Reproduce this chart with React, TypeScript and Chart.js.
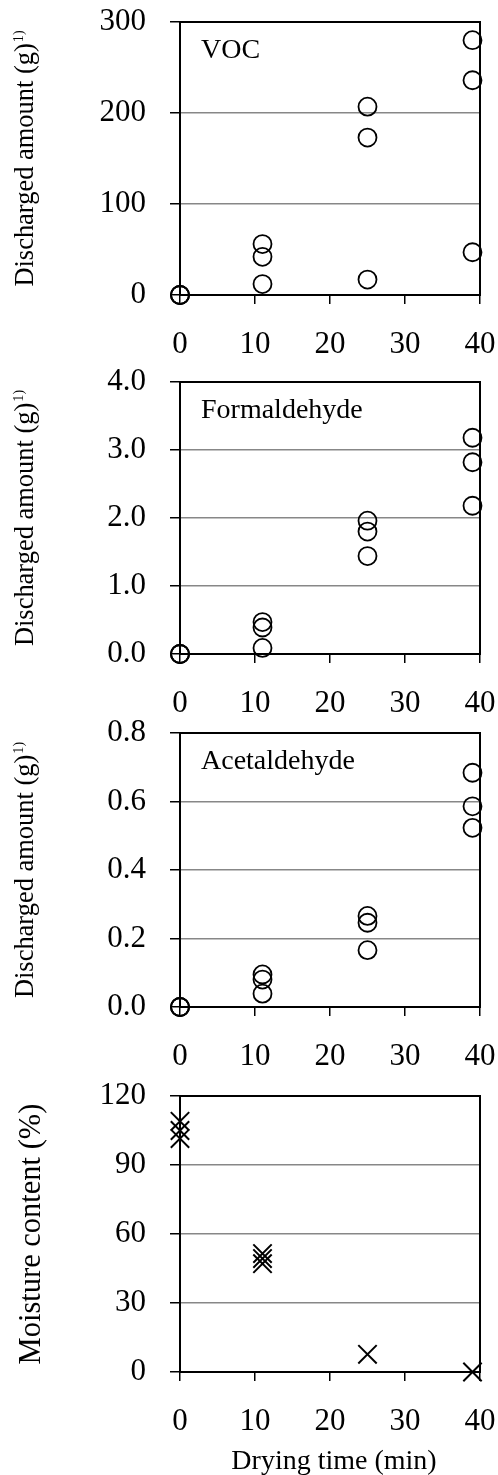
import React, { useEffect, useRef } from 'react';
import { Chart, registerables } from 'chart.js';

Chart.register(...registerables);

// ---- data ----
const dischargeTimes = [0, 0, 0, 11, 11, 11, 25, 25, 25, 39, 39, 39];
const vocValues = [0, 0, 0, 56, 42, 12, 207, 173, 17, 280, 236, 47];
const formaldehydeValues = [0, 0, 0, 0.47, 0.39, 0.09, 1.96, 1.8, 1.44, 3.18, 2.82, 2.18];
const acetaldehydeValues = [0, 0, 0, 0.095, 0.08, 0.039, 0.266, 0.246, 0.166, 0.684, 0.586, 0.523];
const moistureTimes = [0, 0, 0, 11, 11, 11, 25, 39];
const moistureValues = [109, 105, 101.5, 51.5, 49.3, 47.1, 7.7, 0];
const xTickValues = [0, 10, 20, 30, 40];
const vocTicks = [0, 100, 200, 300];
const formaldehydeTicks = [0, 1, 2, 3, 4];
const acetaldehydeTicks = [0, 0.2, 0.4, 0.6, 0.8];
const moistureTicks = [0, 30, 60, 90, 120];

const FONT = '"Liberation Serif", "Times New Roman", serif';

type Panel = {
  name: string;
  yTitle: string;
  ySup: string;
  yTitleSize: number;
  yTitleScale: number;
  yTitleBase: number;
  xs: number[];
  ys: number[];
  yTicks: number[];
  decimals: number;
  marker: 'circle' | 'crossRot';
  plotTop: number;
  plotBottom: number;
  xTitle: string;
};

const panels: Panel[] = [
  { name: 'VOC', yTitle: 'Discharged amount (g)', ySup: '1)', yTitleSize: 28, yTitleScale: 0.945, yTitleBase: 33, xs: dischargeTimes, ys: vocValues, yTicks: vocTicks, decimals: 0, marker: 'circle', plotTop: 22, plotBottom: 295, xTitle: '' },
  { name: 'Formaldehyde', yTitle: 'Discharged amount (g)', ySup: '1)', yTitleSize: 28, yTitleScale: 0.945, yTitleBase: 33, xs: dischargeTimes, ys: formaldehydeValues, yTicks: formaldehydeTicks, decimals: 1, marker: 'circle', plotTop: 382, plotBottom: 654, xTitle: '' },
  { name: 'Acetaldehyde', yTitle: 'Discharged amount (g)', ySup: '1)', yTitleSize: 28, yTitleScale: 0.945, yTitleBase: 33, xs: dischargeTimes, ys: acetaldehydeValues, yTicks: acetaldehydeTicks, decimals: 1, marker: 'circle', plotTop: 733, plotBottom: 1007, xTitle: '' },
  { name: '', yTitle: 'Moisture content (%)', ySup: '', yTitleSize: 30.5, yTitleScale: 1, yTitleBase: 40, xs: moistureTimes, ys: moistureValues, yTicks: moistureTicks, decimals: 0, marker: 'crossRot', plotTop: 1096, plotBottom: 1372, xTitle: 'Drying time (min)' },
];

const PAD_TOP = 22;
const PLOT_LEFT = 180;
const PLOT_RIGHT = 480;
const W = 498;
const TICK_SIZE = 31;

function PanelChart({ p }: { p: Panel }) {
  const ref = useRef<HTMLCanvasElement | null>(null);
  const top = p.plotTop - PAD_TOP;
  const xAxisH = p.xTitle ? 1475 - p.plotBottom : 62;
  const height = PAD_TOP + (p.plotBottom - p.plotTop) + xAxisH;

  useEffect(() => {
    if (!ref.current) return;
    const yMax = p.yTicks[p.yTicks.length - 1];
    const overlay = {
      id: 'overlay',
      beforeDatasetsDraw(chart: any) {
        const { ctx, chartArea: a } = chart;
        ctx.save();
        ctx.strokeStyle = '#000';
        ctx.lineWidth = 2;
        ctx.strokeRect(a.left, a.top, a.right - a.left, a.bottom - a.top);
        ctx.restore();
      },
      afterDraw(chart: any) {
        const { ctx, chartArea: a } = chart;
        ctx.save();
        ctx.fillStyle = '#000';
        if (p.name) {
          ctx.font = `28px ${FONT}`;
          ctx.textAlign = 'left';
          ctx.textBaseline = 'alphabetic';
          ctx.fillText(p.name, 201, a.top + 35.5);
        }
        // y title (rotated)
        const mainFont = `${p.yTitleSize}px ${FONT}`;
        const supFont = `15px ${FONT}`;
        ctx.font = mainFont;
        const w = ctx.measureText(p.yTitle).width;
        ctx.font = supFont;
        const sw = p.ySup ? ctx.measureText(p.ySup).width + 1 : 0;
        const total = w + sw;
        ctx.translate(p.yTitleBase, (a.top + a.bottom) / 2);
        ctx.rotate(-Math.PI / 2);
        ctx.scale(p.yTitleScale, 1);
        ctx.textAlign = 'left';
        ctx.textBaseline = 'alphabetic';
        ctx.font = mainFont;
        ctx.fillText(p.yTitle, -total / 2, 0);
        if (p.ySup) {
          ctx.font = supFont;
          ctx.fillText(p.ySup, -total / 2 + w + 1, -10);
        }
        ctx.restore();
        if (p.xTitle) {
          ctx.save();
          ctx.fillStyle = '#000';
          ctx.font = `28px ${FONT}`;
          ctx.textAlign = 'center';
          ctx.textBaseline = 'alphabetic';
          ctx.fillText(p.xTitle, 334, 1469 - top);
          ctx.restore();
        }
      },
    };

    const chart = new Chart(ref.current, {
      type: 'scatter',
      data: {
        datasets: [
          {
            data: p.xs.map((x, i) => ({ x, y: p.ys[i] })),
            pointStyle: p.marker,
            pointRadius: p.marker === 'circle' ? 9 : 13,
            pointBorderWidth: p.marker === 'circle' ? 1.8 : 2,
            borderColor: '#000',
            backgroundColor: 'rgba(0,0,0,0)',
            pointBackgroundColor: 'rgba(0,0,0,0)',
            pointBorderColor: '#000',
            clip: false,
          } as any,
        ],
      },
      options: {
        responsive: false,
        maintainAspectRatio: false,
        animation: false,
        layout: { padding: { top: PAD_TOP, right: W - PLOT_RIGHT, left: 0, bottom: 0 } },
        plugins: { legend: { display: false }, tooltip: { enabled: false } },
        scales: {
          x: {
            type: 'linear',
            min: 0,
            max: 40,
            afterBuildTicks: (s: any) => { s.ticks = xTickValues.map((v) => ({ value: v })); },
            ticks: { color: '#000', font: { family: FONT, size: TICK_SIZE }, padding: 22, maxRotation: 0, autoSkip: false },
            grid: { drawOnChartArea: false, tickLength: 9, color: '#000', lineWidth: 1.5 },
            border: { display: false },
            afterFit: (s: any) => {
              s.height = xAxisH;
              s.paddingLeft = 0;
              s.paddingRight = 0;
            },
          },
          y: {
            type: 'linear',
            min: 0,
            max: yMax,
            afterBuildTicks: (s: any) => { s.ticks = p.yTicks.map((v) => ({ value: v })); },
            ticks: {
              color: '#000',
              font: { family: FONT, size: TICK_SIZE },
              padding: 24,
              autoSkip: false,
              callback: (v: any) => Number(v).toFixed(p.decimals),
            },
            grid: {
              color: (c: any) => (c.tick && (Math.abs(c.tick.value) < 1e-9 || Math.abs(c.tick.value - yMax) < 1e-9) ? 'rgba(0,0,0,0)' : '#878787'),
              tickColor: '#000',
              tickLength: 10,
              lineWidth: 1.5,
            },
            border: { display: false },
            afterFit: (s: any) => {
              s.width = PLOT_LEFT;
              s.paddingTop = 0;
              s.paddingBottom = 0;
            },
          },
        },
      } as any,
      plugins: [overlay],
    });
    return () => chart.destroy();
  }, []);

  return (
    <canvas
      ref={ref}
      width={W}
      height={height}
      style={{ position: 'absolute', left: 0, top, width: W, height, display: 'block' }}
    />
  );
}

export default function App() {
  return (
    <div style={{ position: 'absolute', left: 0, top: 0, width: W, height: 1475, background: '#fff' }}>
      {panels.map((p, i) => (
        <PanelChart key={i} p={p} />
      ))}
    </div>
  );
}
